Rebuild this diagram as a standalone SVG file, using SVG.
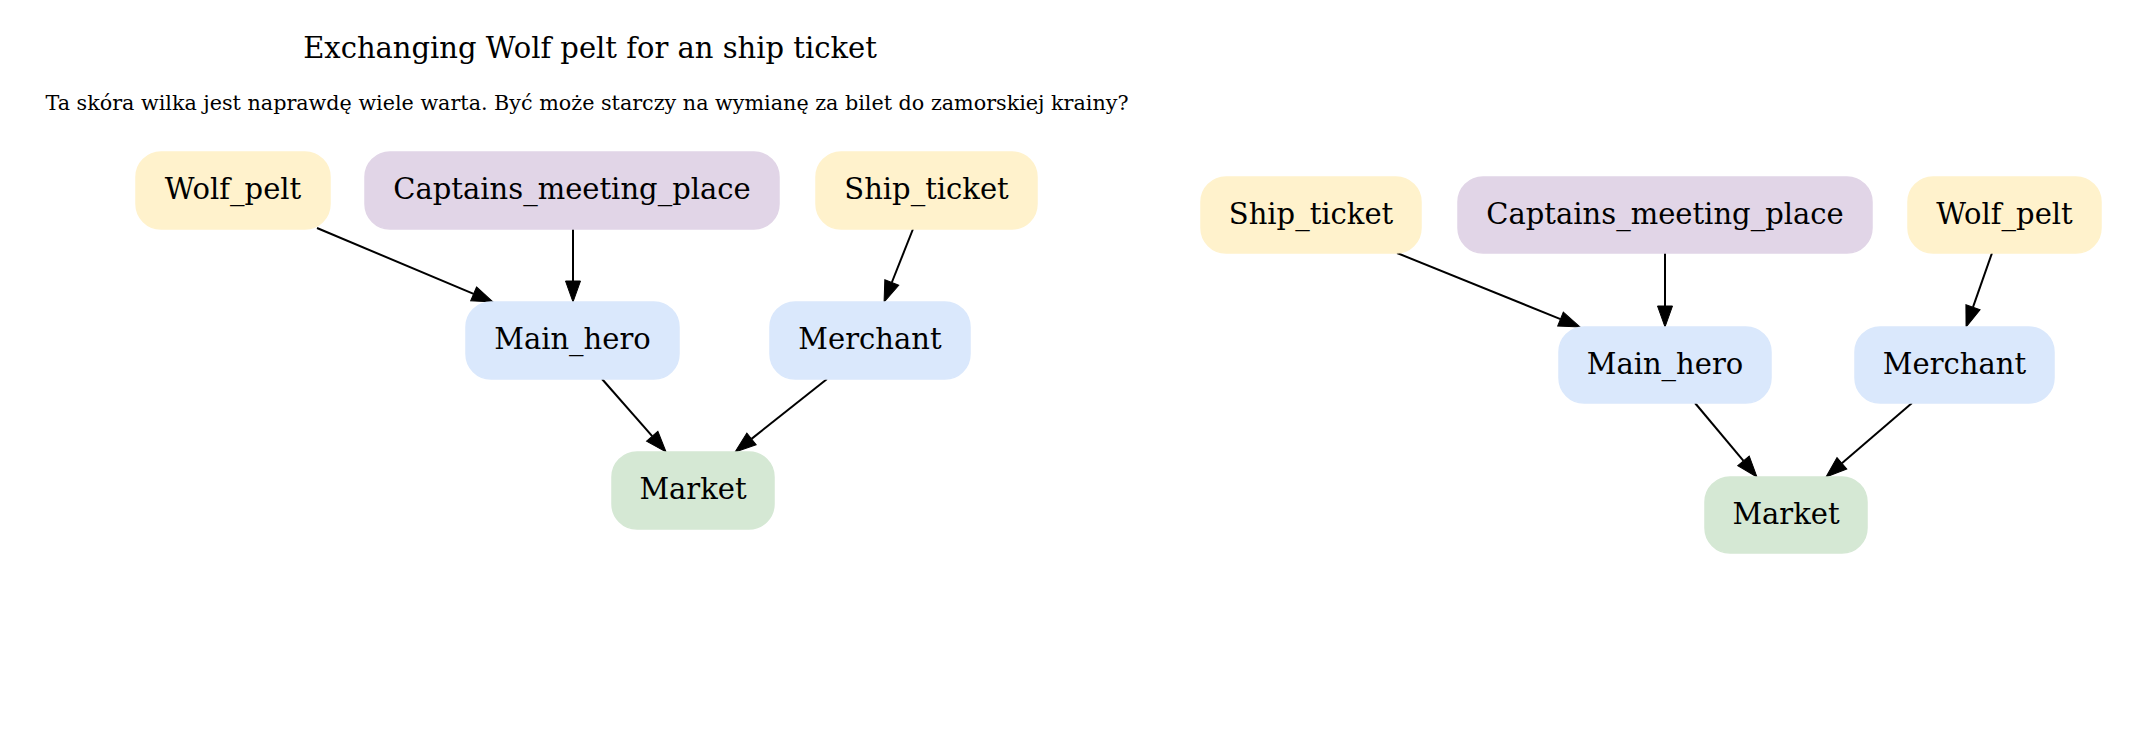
<svg xmlns="http://www.w3.org/2000/svg" width="2129" height="731" viewBox="0 0 2129 731">
<style>
text{font-family:"DejaVu Serif","Liberation Serif",serif;fill:#000;text-anchor:middle}
.lbl{font-size:29px}
.title{font-size:29px}
.sub{font-size:20.7px}
.n rect{rx:25px;ry:25px;stroke-width:1.5}
.y rect{fill:#fff2cc;stroke:#fff2cc}
.p rect{fill:#e1d5e7;stroke:#e1d5e7}
.b rect{fill:#dae8fc;stroke:#dae8fc}
.g rect{fill:#d5e8d4;stroke:#d5e8d4}
.e path{fill:none;stroke:#000;stroke-width:2;marker-end:url(#ah)}
</style>
<defs>
<marker id="ah" markerUnits="userSpaceOnUse" markerWidth="22" markerHeight="16" refX="0" refY="7.5" orient="auto" viewBox="0 0 22 15" overflow="visible">
<polygon points="0,0 21,7.5 0,15" fill="#000" stroke="#000" stroke-width="1"/>
</marker>
</defs>
<rect width="2129" height="731" fill="#fff"/>
<text class="title" x="590" y="58">Exchanging Wolf pelt for an ship ticket</text>
<text class="sub" x="587" y="110">Ta skóra wilka jest naprawdę wiele warta. Być może starczy na wymianę za bilet do zamorskiej krainy?</text>

<g id="connectors" class="e">
<path d="M317,228 L473.6,293.9"/>
<path d="M573,229 L573,281"/>
<path d="M913,229 L891.8,282.5"/>
<path d="M602,379 L652.2,436.2"/>
<path d="M827,379 L751.5,438.9"/>
<path d="M1397,253 L1560.5,319.1"/>
<path d="M1665,253 L1665,306"/>
<path d="M1992,253 L1973,307.2"/>
<path d="M1695,403 L1743.5,460.9"/>
<path d="M1912,403 L1841.9,463.3"/>
</g>

<g id="L_Wolf_pelt" class="n y"><rect x="136" y="152" width="194" height="77"/><text class="lbl" x="233" y="199">Wolf_pelt</text></g>
<g id="L_Captains_meeting_place" class="n p"><rect x="365" y="152" width="414" height="77"/><text class="lbl" x="572" y="199">Captains_meeting_place</text></g>
<g id="L_Ship_ticket" class="n y"><rect x="816" y="152" width="221" height="77"/><text class="lbl" x="926.5" y="199">Ship_ticket</text></g>
<g id="L_Main_hero" class="n b"><rect x="466" y="302" width="213" height="77"/><text class="lbl" x="572.5" y="349">Main_hero</text></g>
<g id="L_Merchant" class="n b"><rect x="770" y="302" width="200" height="77"/><text class="lbl" x="870" y="349">Merchant</text></g>
<g id="L_Market" class="n g"><rect x="612" y="452" width="162" height="77"/><text class="lbl" x="693" y="499">Market</text></g>

<g id="R_Ship_ticket" class="n y"><rect x="1201" y="177" width="220" height="76"/><text class="lbl" x="1311" y="224">Ship_ticket</text></g>
<g id="R_Captains_meeting_place" class="n p"><rect x="1458" y="177" width="414" height="76"/><text class="lbl" x="1665" y="224">Captains_meeting_place</text></g>
<g id="R_Wolf_pelt" class="n y"><rect x="1908" y="177" width="193" height="76"/><text class="lbl" x="2004.5" y="224">Wolf_pelt</text></g>
<g id="R_Main_hero" class="n b"><rect x="1559" y="327" width="212" height="76"/><text class="lbl" x="1665" y="374">Main_hero</text></g>
<g id="R_Merchant" class="n b"><rect x="1855" y="327" width="199" height="76"/><text class="lbl" x="1954.5" y="374">Merchant</text></g>
<g id="R_Market" class="n g"><rect x="1705" y="477" width="162" height="76"/><text class="lbl" x="1786" y="524">Market</text></g>
</svg>
